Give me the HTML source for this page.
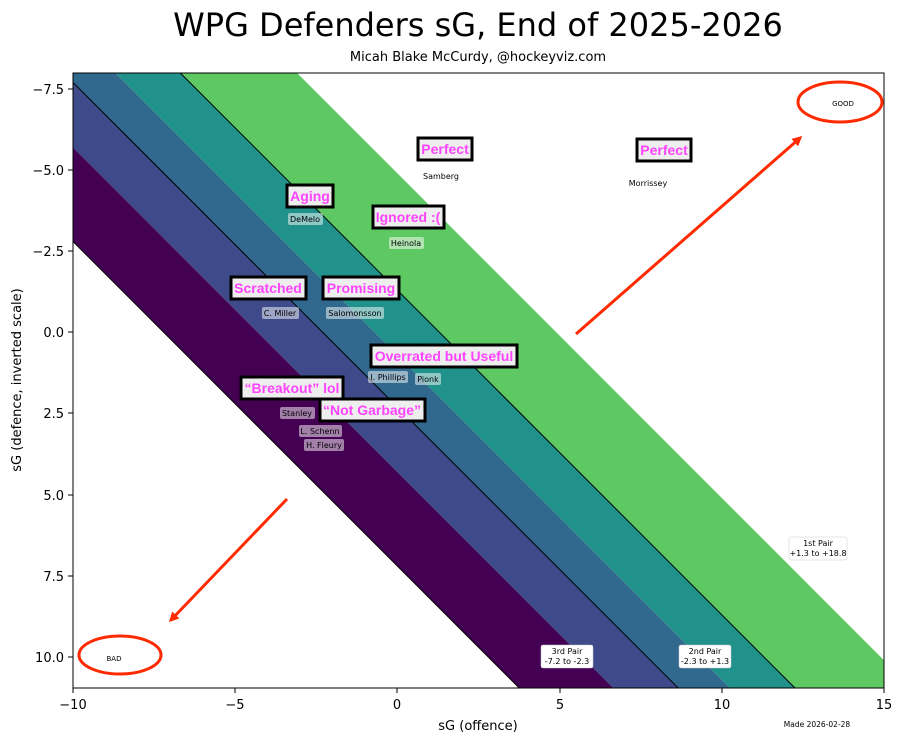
<!DOCTYPE html>
<html><head><meta charset="utf-8"><style>
body{margin:0;background:#fff;}
svg text{font-family:"DejaVu Sans","Liberation Sans",sans-serif;}
svg text.m{font-family:"Liberation Sans",sans-serif;}
</style></head><body>
<svg width="902" height="742" xmlns="http://www.w3.org/2000/svg">
<defs><clipPath id="c"><rect x="73" y="73" width="811" height="615"/></clipPath>
<marker id="ah" markerWidth="10" markerHeight="10" refX="7" refY="5" orient="auto" markerUnits="userSpaceOnUse"><path d="M0,0 L10,5 L0,10 z" fill="#ff2a00"/></marker></defs>
<text x="478" y="36" font-size="32" text-anchor="middle">WPG Defenders sG, End of 2025-2026</text>
<text x="478" y="61" font-size="13" text-anchor="middle">Micah Blake McCurdy, @hockeyviz.com</text>
<g clip-path="url(#c)"><g transform="translate(397.4,332.4) scale(32.44,32.46)">
<polygon points="-15.2,-8 -12.3,-8 6.7,11 3.8,11" fill="#440154"/>
<polygon points="-12.3,-8 -10.3,-8 8.7,11 6.7,11" fill="#3e4a89"/>
<polygon points="-10.3,-8 -8.7,-8 10.3,11 8.7,11" fill="#31688e"/>
<polygon points="-8.7,-8 -6.7,-8 12.3,11 10.3,11" fill="#21918c"/>
<polygon points="-6.7,-8 -3.1,-8 15.9,11 12.3,11" fill="#5ec962"/>
<g stroke="#000" stroke-width="1" fill="none">
<line x1="-15.2" y1="-8" x2="3.8" y2="11" vector-effect="non-scaling-stroke"/>
<line x1="-10.3" y1="-8" x2="8.7" y2="11" vector-effect="non-scaling-stroke"/>
<line x1="-6.7" y1="-8" x2="12.3" y2="11" vector-effect="non-scaling-stroke"/>
</g></g></g>
<rect x="73" y="73" width="811" height="615" fill="none" stroke="#000" stroke-width="1"/>
<g font-size="13" stroke="#000">
<line x1="68" y1="89" x2="73" y2="89"/><line x1="68" y1="170" x2="73" y2="170"/><line x1="68" y1="251" x2="73" y2="251"/><line x1="68" y1="332" x2="73" y2="332"/><line x1="68" y1="413" x2="73" y2="413"/><line x1="68" y1="495" x2="73" y2="495"/><line x1="68" y1="576" x2="73" y2="576"/><line x1="68" y1="657" x2="73" y2="657"/>
<line x1="73" y1="688" x2="73" y2="693"/><line x1="235" y1="688" x2="235" y2="693"/><line x1="397" y1="688" x2="397" y2="693"/><line x1="560" y1="688" x2="560" y2="693"/><line x1="722" y1="688" x2="722" y2="693"/><line x1="884" y1="688" x2="884" y2="693"/>
</g>
<g font-size="13" text-anchor="end">
<text x="64" y="94">−7.5</text><text x="64" y="175">−5.0</text><text x="64" y="256">−2.5</text><text x="64" y="337">0.0</text><text x="64" y="418">2.5</text><text x="64" y="500">5.0</text><text x="64" y="581">7.5</text><text x="64" y="662">10.0</text>
</g>
<g font-size="13" text-anchor="middle">
<text x="73" y="709">−10</text><text x="235" y="709">−5</text><text x="397" y="709">0</text><text x="560" y="709">5</text><text x="722" y="709">10</text><text x="884" y="709">15</text>
<text x="478" y="730">sG (offence)</text>
<text transform="translate(21,380) rotate(-90)">sG (defence, inverted scale)</text>
</g>
<text x="817" y="727" font-size="7.5" text-anchor="middle">Made 2026-02-28</text>
<g stroke="#000" stroke-width="3" fill="#eee">
<rect x="418" y="138" width="54" height="22"/><rect x="637" y="139" width="54" height="22"/>
<rect x="287" y="185" width="46" height="22"/><rect x="373" y="206" width="71" height="22"/>
<rect x="231" y="277" width="75" height="22"/><rect x="323" y="277" width="76" height="22"/>
<rect x="371" y="345" width="146" height="22"/><rect x="241" y="377" width="102" height="22"/>
<rect x="320" y="399" width="105" height="22"/>
</g>
<g font-size="14" font-weight="bold" fill="#ff44ff" text-anchor="middle">
<text class="m" x="445" y="154">Perfect</text><text class="m" x="664" y="155">Perfect</text>
<text class="m" x="310" y="201">Aging</text><text class="m" x="408" y="222">Ignored :(</text>
<text class="m" x="268" y="293">Scratched</text><text class="m" x="361" y="293">Promising</text>
<text class="m" x="444" y="361">Overrated but Useful</text><text class="m" x="292" y="393">“Breakout” lol</text>
<text class="m" x="372" y="415">“Not Garbage”</text>
</g>
<g fill="#fff" fill-opacity="0.5">
<rect x="420" y="170" width="42" height="12" rx="2"/><rect x="626" y="177" width="44" height="12" rx="2"/>
<rect x="288" y="213" width="35" height="12" rx="2"/><rect x="389" y="237" width="35" height="12" rx="2"/>
<rect x="262" y="307" width="37" height="12" rx="2"/><rect x="326" y="307" width="58" height="12" rx="2"/>
<rect x="368" y="371" width="40" height="12" rx="2"/><rect x="415" y="373" width="26" height="12" rx="2"/>
<rect x="280" y="407" width="35" height="12" rx="2"/><rect x="299" y="425" width="43" height="12" rx="2"/>
<rect x="304" y="439" width="40" height="12" rx="2"/>
</g>
<g font-size="8" text-anchor="middle" fill="#000">
<text x="441" y="179">Samberg</text><text x="648" y="186">Morrissey</text>
<text x="305" y="222">DeMelo</text><text x="406" y="246">Heinola</text>
<text x="280" y="316">C. Miller</text><text x="355" y="316">Salomonsson</text>
<text x="388" y="380">I. Phillips</text><text x="428" y="382">Pionk</text>
<text x="297" y="416">Stanley</text><text x="320" y="434">L. Schenn</text>
<text x="324" y="448">H. Fleury</text>
</g>
<g fill="#fff" stroke="#ccc" stroke-width="0.5">
<rect x="789" y="537" width="58" height="23" rx="2"/><rect x="541" y="645" width="52" height="23" rx="2"/><rect x="679" y="645" width="52" height="23" rx="2"/>
</g>
<g font-size="8" text-anchor="middle">
<text x="818" y="546">1st Pair</text><text x="818" y="556">+1.3 to +18.8</text>
<text x="567" y="654">3rd Pair</text><text x="567" y="664">-7.2 to -2.3</text>
<text x="705" y="654">2nd Pair</text><text x="705" y="664">-2.3 to +1.3</text>
<text x="843" y="106" font-size="7">GOOD</text><text x="114" y="661" font-size="7">BAD</text>
</g>
<ellipse cx="840" cy="102" rx="42" ry="20" fill="none" stroke="#ff2a00" stroke-width="3"/>
<ellipse cx="120" cy="655" rx="41" ry="19" fill="none" stroke="#ff2a00" stroke-width="3"/>
<line x1="576" y1="334" x2="800" y2="138" stroke="#ff2a00" stroke-width="3" marker-end="url(#ah)"/>
<line x1="287" y1="499" x2="171" y2="620" stroke="#ff2a00" stroke-width="3" marker-end="url(#ah)"/>
</svg>
</body></html>
